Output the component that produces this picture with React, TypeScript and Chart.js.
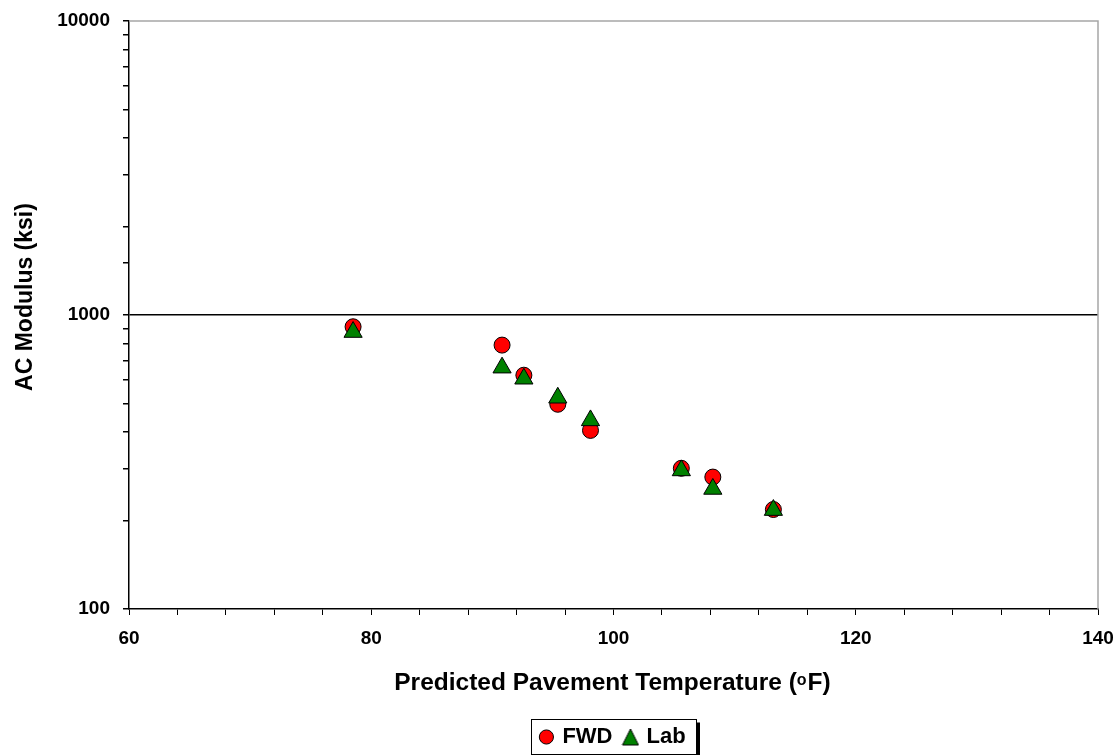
import React, { useEffect, useRef } from "react";
import { Chart, registerables } from "chart.js";

Chart.register(...registerables);

const FONT = '"Liberation Sans", Arial, sans-serif';

const fwdTemperature = [78.5, 90.8, 92.6, 95.4, 98.1, 105.6, 108.2, 113.2];
const fwdModulus = [912, 790, 624, 497, 405, 301, 281, 218];
const labTemperature = [78.5, 90.8, 92.6, 95.4, 98.1, 105.6, 108.2, 113.2];
const labModulus = [875, 662, 607, 523, 438, 296, 256, 217];

const xMin = 60;
const xMax = 140;
const xStep = 4;
const xLabelEvery = 20;
const yMin = 100;
const yMax = 10000;

const xTitleMain = "Predicted Pavement Temperature (";
const xTitleSup = "o";
const xTitleEnd = "F)";
const yTitle = "AC Modulus (ksi)";
const seriesNames = ["FWD", "Lab"];

function makeTriangleIcon(): HTMLCanvasElement {
  const c = document.createElement("canvas");
  c.width = 18;
  c.height = 18;
  const g = c.getContext("2d")!;
  g.beginPath();
  g.moveTo(9, 1);
  g.lineTo(17, 17);
  g.lineTo(1, 17);
  g.closePath();
  g.fillStyle = "#008000";
  g.fill();
  g.strokeStyle = "#000";
  g.lineWidth = 1;
  g.stroke();
  return c;
}

const decorPlugin = {
  id: "decor",
  beforeDatasetsDraw(chart: any) {
    const { ctx, chartArea: a } = chart;
    ctx.save();
    ctx.strokeStyle = "#a6a6a6";
    ctx.lineWidth = 1.5;
    ctx.beginPath();
    ctx.moveTo(a.left, a.top);
    ctx.lineTo(a.right, a.top);
    ctx.lineTo(a.right, a.bottom);
    ctx.stroke();
    ctx.restore();
  },
  afterDraw(chart: any) {
    const { ctx, chartArea: a } = chart;
    ctx.save();
    ctx.fillStyle = "#000";
    const big = `bold 24.5px ${FONT}`;
    const small = `bold 16px ${FONT}`;
    ctx.font = big;
    const w1 = ctx.measureText(xTitleMain).width;
    const w3 = ctx.measureText(xTitleEnd).width;
    ctx.font = small;
    const w2 = ctx.measureText(xTitleSup).width + 1;
    const total = w1 + w2 + w3;
    const cx = (a.left + a.right) / 2 - 1;
    let x = cx - total / 2;
    const base = a.bottom + 81;
    ctx.textAlign = "left";
    ctx.textBaseline = "alphabetic";
    ctx.font = big;
    ctx.fillText(xTitleMain, x, base);
    x += w1;
    ctx.font = small;
    ctx.fillText(xTitleSup, x, base - 5);
    x += w2;
    ctx.font = big;
    ctx.fillText(xTitleEnd, x, base);

    ctx.save();
    ctx.translate(32, (a.top + a.bottom) / 2 - 18);
    ctx.rotate(-Math.PI / 2);
    ctx.font = `bold 23px ${FONT}`;
    ctx.textAlign = "center";
    ctx.fillText(yTitle, 0, 0);
    ctx.restore();

    const lg = chart.legend;
    if (lg && lg.legendHitBoxes && lg.legendHitBoxes.length) {
      const hb = lg.legendHitBoxes;
      const first = hb[0];
      const last = hb[hb.length - 1];
      const left = Math.round(first.left - 10) + 0.5;
      const right = Math.round(last.left + last.width + 10) + 0.5;
      const midY = first.top + first.height / 2;
      const top = Math.round(midY - 18) + 0.5;
      const h = 35;
      ctx.fillStyle = "#000";
      ctx.fillRect(right + 0.5, top + 3, 3, h);
      ctx.fillRect(left + 3, top + h + 0.5, right - left, 3);
      ctx.strokeStyle = "#000";
      ctx.lineWidth = 1;
      ctx.strokeRect(left, top, right - left, h);
    }
    ctx.restore();
  },
};

export default function App() {
  const ref = useRef<HTMLCanvasElement | null>(null);

  useEffect(() => {
    if (!ref.current) return;
    const triIcon = makeTriangleIcon();
    const chart = new Chart(ref.current, {
      type: "scatter",
      data: {
        datasets: [
          {
            label: seriesNames[0],
            data: fwdTemperature.map((t, i) => ({ x: t, y: fwdModulus[i] })),
            pointStyle: "circle",
            pointRadius: 8,
            pointHoverRadius: 8,
            backgroundColor: "#ff0000",
            borderColor: "#000000",
            borderWidth: 1,
            order: 1,
          },
          {
            label: seriesNames[1],
            data: labTemperature.map((t, i) => ({ x: t, y: labModulus[i] })),
            pointStyle: "triangle",
            pointRadius: 10.5,
            pointHoverRadius: 10.5,
            backgroundColor: "#008000",
            borderColor: "#000000",
            borderWidth: 1,
            order: 0,
          },
        ],
      },
      options: {
        responsive: false,
        animation: false,
        layout: { padding: { top: 21, right: 22, left: 0, bottom: -3 } },
        plugins: {
          tooltip: { enabled: false },
          legend: {
            position: "bottom",
            fullSize: false,
            labels: {
              usePointStyle: true,
              boxWidth: 10,
              boxHeight: 10,
              padding: 13,
              color: "#000",
              font: { family: FONT, size: 22, weight: "bold" },
              sort: (a: any, b: any) => a.datasetIndex - b.datasetIndex,
              generateLabels: (ch: any) => {
                const items = Chart.defaults.plugins.legend.labels.generateLabels(ch);
                items.forEach((it: any) => {
                  if (it.datasetIndex === 1) it.pointStyle = triIcon;
                });
                return items;
              },
            },
          },
        },
        scales: {
          x: {
            type: "linear",
            min: xMin,
            max: xMax,
            afterFit: (s: any) => {
              s.height = 104;
              s.paddingLeft = 0;
              s.paddingRight = 0;
            },
            ticks: {
              stepSize: xStep,
              autoSkip: false,
              maxRotation: 0,
              padding: 12,
              color: "#000",
              font: { family: FONT, size: 19, weight: "bold" },
              callback: (v: any) => (Number(v) % xLabelEvery === 0 ? String(v) : ""),
            },
            grid: {
              drawOnChartArea: false,
              tickColor: "#000",
              tickLength: 6,
              lineWidth: 1,
            },
            border: { color: "#000", width: 1.5 },
            title: { display: false },
          },
          y: {
            type: "logarithmic",
            min: yMin,
            max: yMax,
            afterFit: (s: any) => {
              s.width = 129;
              s.paddingTop = 0;
              s.paddingBottom = 0;
            },
            ticks: {
              autoSkip: false,
              padding: 13,
              color: "#000",
              font: { family: FONT, size: 19, weight: "bold" },
              callback: (v: any) => {
                const l = Math.log10(Number(v));
                return Math.abs(l - Math.round(l)) < 1e-9 ? String(v) : "";
              },
            },
            grid: {
              color: (c: any) =>
                c.tick && Math.abs(c.tick.value - 1000) < 1e-6 ? "#000" : "rgba(0,0,0,0)",
              tickColor: "#000",
              tickLength: 6,
              lineWidth: 1.5,
            },
            border: { color: "#000", width: 1.5 },
            title: { display: false },
          },
        },
      },
      plugins: [decorPlugin],
    });
    return () => chart.destroy();
  }, []);

  return (
    <div style={{ position: "absolute", left: 0, top: 0, width: 1120, height: 755, background: "#fff" }}>
      <canvas ref={ref} width={1120} height={755} />
    </div>
  );
}
